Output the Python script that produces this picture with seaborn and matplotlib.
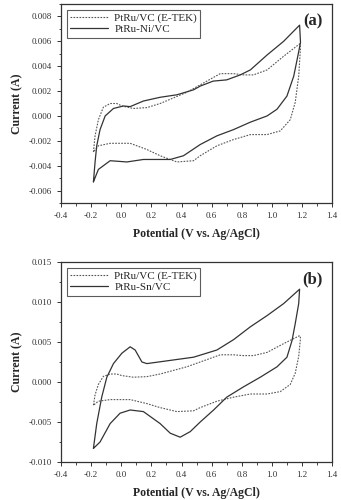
import pandas as pd
import seaborn as sns
import matplotlib.pyplot as plt
from matplotlib.ticker import MultipleLocator, FormatStrFormatter

# PtRu/VC (E-TEK) reference CV, same curve in both panels
etek_v = [-0.185, -0.174, -0.152, -0.119, -0.074, -0.03, 0.004, 0.08, 0.17, 0.258, 0.435, 0.524, 0.657,
          0.745, 0.81, 0.878, 0.968, 1.078, 1.185,
          1.19, 1.178, 1.155, 1.122, 1.056, 0.968, 0.857, 0.745, 0.635, 0.524, 0.48, 0.369, 0.258, 0.17,
          0.059, -0.074, -0.152, -0.185]
etek_i = [-0.0029, -0.0016, -0.0003, 0.0007, 0.0010, 0.0010, 0.0008, 0.0006, 0.00067, 0.0010, 0.0019,
          0.0025, 0.0034, 0.0034, 0.0033, 0.0033, 0.0037, 0.0048, 0.0058,
          0.0055, 0.0032, 0.0011, -0.0003, -0.0012, -0.0015, -0.0015, -0.0019, -0.0024, -0.0032, -0.0036,
          -0.0037, -0.0032, -0.0027, -0.0022, -0.0022, -0.0024, -0.0029]

# PtRu-Ni/VC
ni_v = [-0.185, -0.174, -0.163, -0.141, -0.107, -0.052, 0.014, 0.059, 0.147, 0.258, 0.369, 0.48, 0.524,
        0.61, 0.70, 0.79, 0.857, 0.968, 1.078, 1.184,
        1.19, 1.167, 1.145, 1.10, 1.034, 0.968, 0.857, 0.745, 0.635, 0.524, 0.413, 0.325, 0.258, 0.147,
        0.037, -0.074, -0.152, -0.185]
ni_i = [-0.0053, -0.0037, -0.0024, -0.0011, 0.0000, 0.0006, 0.0008, 0.00075, 0.0012, 0.0015, 0.0017,
        0.0021, 0.0024, 0.0028, 0.0029, 0.0033, 0.0037, 0.0049, 0.0060, 0.0073,
        0.0059, 0.0045, 0.0032, 0.0016, 0.00054, 0.0000, -0.0005, -0.0011, -0.0016, -0.0023, -0.0032,
        -0.0035, -0.0035, -0.0035, -0.0037, -0.0036, -0.0043, -0.0053]

# PtRu-Sn/VC
sn_v = [-0.185, -0.163, -0.13, -0.096, -0.052, 0.004, 0.059, 0.092, 0.137, 0.17, 0.325, 0.48, 0.635,
        0.746, 0.857, 0.968, 1.078, 1.184,
        1.178, 1.155, 1.134, 1.10, 1.034, 0.923, 0.812, 0.70, 0.613, 0.524, 0.458, 0.391, 0.325, 0.258,
        0.147, 0.059, -0.008, -0.074, -0.141, -0.185]
sn_i = [-0.0083, -0.0052, -0.0019, 0.0006, 0.0023, 0.0036, 0.0044, 0.0040, 0.0025, 0.0023, 0.0027,
        0.0031, 0.0040, 0.0053, 0.0069, 0.0083, 0.0098, 0.0116,
        0.0098, 0.0073, 0.0052, 0.0031, 0.0019, 0.0006, -0.0006, -0.0019, -0.0035, -0.0050, -0.0062,
        -0.0069, -0.0064, -0.0052, -0.0037, -0.0035, -0.0039, -0.0052, -0.0075, -0.0083]

sns.set_style("ticks")
plt.rcParams['font.family'] = ['Liberation Serif', 'DejaVu Serif']
plt.rcParams['xtick.direction'] = 'out'
plt.rcParams['ytick.direction'] = 'out'

fig = plt.figure(figsize=(3.41, 5.0), dpi=100)
ax1 = fig.add_axes([0.179, 0.594, 0.795, 0.398])
ax2 = fig.add_axes([0.179, 0.076, 0.795, 0.400])

panels = [
    (ax1, ni_v, ni_i, 'PtRu-Ni/VC', (-0.007, 0.009), 0.002, '(a)'),
    (ax2, sn_v, sn_i, 'PtRu-Sn/VC', (-0.010, 0.015), 0.005, '(b)'),
]

for ax, v, i, name, ylim, ystep, tag in panels:
    df_e = pd.DataFrame({'E': etek_v, 'I': etek_i})
    df_s = pd.DataFrame({'E': v, 'I': i})
    sns.lineplot(data=df_e, x='E', y='I', sort=False, estimator=None, ax=ax, color='#555555',
                 lw=0.8, linestyle=(0, (1.5, 1.2)), label='PtRu/VC (E-TEK)')
    sns.lineplot(data=df_s, x='E', y='I', sort=False, estimator=None, ax=ax, color='#333333',
                 lw=0.9, label=name)
    for ln in ax.lines:
        ln.set_solid_joinstyle('round')
        ln.set_dash_joinstyle('round')
    ax.set_xlim(-0.4, 1.4)
    ax.set_ylim(*ylim)
    ax.xaxis.set_major_locator(MultipleLocator(0.2))
    ax.xaxis.set_minor_locator(MultipleLocator(0.1))
    ax.yaxis.set_major_locator(MultipleLocator(ystep))
    ax.yaxis.set_minor_locator(MultipleLocator(ystep / 2))
    ax.yaxis.set_major_formatter(FormatStrFormatter('%.3f'))
    ax.xaxis.set_major_formatter(FormatStrFormatter('%.1f'))
    ax.tick_params(labelsize=6.5, length=3, width=0.7, colors='#333333')
    ax.tick_params(which='minor', length=1.8, width=0.6)
    for s in ax.spines.values():
        s.set_linewidth(0.9)
        s.set_color('#333333')
    ax.set_xlabel('Potential (V vs. Ag/AgCl)', fontsize=8.5, fontweight='bold', labelpad=6)
    ax.set_ylabel('Current (A)', fontsize=8.5, fontweight='bold', labelpad=4)
    leg = ax.legend(loc='upper left', fontsize=8, frameon=True, fancybox=False, handlelength=3.4,
                    borderpad=0.3, labelspacing=0.15, borderaxespad=0.5, handletextpad=0.6)
    leg.get_frame().set_edgecolor('#333333')
    leg.get_frame().set_linewidth(0.8)
    ax.text(0.965, 0.915, tag, transform=ax.transAxes, ha='right', va='center', fontsize=12,
            fontweight='bold')

fig.savefig('out.png', dpi=100)
